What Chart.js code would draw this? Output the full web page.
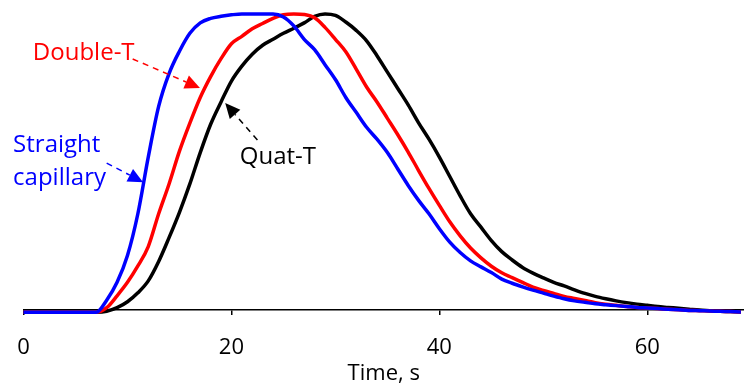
<!DOCTYPE html>
<html>
<head>
<meta charset="utf-8">
<script src="https://cdn.jsdelivr.net/npm/chart.js@4"></script>
<style>
  html, body { margin: 0; padding: 0; background: #fff; }
  #wrap { width: 744px; height: 385px; }
</style>
</head>
<body>
<div id="wrap"><canvas id="peaks"></canvas></div>
<script>
// time axis, seconds
const seconds = [0, 1, 2, 3, 4, 5, 6, 7, 8, 9, 10, 11, 12, 13, 14, 15, 16, 17, 18, 19,
  20, 21, 22, 23, 24, 25, 26, 27, 28, 29, 30, 31, 32, 33, 34, 35, 36, 37, 38, 39,
  40, 41, 42, 43, 44, 45, 46, 47, 48, 49, 50, 51, 52, 53, 54, 55, 56, 57, 58, 59,
  60, 61, 62, 63, 64, 65, 66, 67, 68, 69];

// signal, % of peak
const straightCapillary = [0, 0, 0, 0, 0, 0, 0, 0, 4, 10, 19, 33, 52, 69, 80, 87.5, 93.5, 97, 98.5, 99.2,
  99.7, 100, 100, 100, 100, 99, 96, 91.5, 88, 83, 78, 72, 67, 62, 58, 53.5, 48, 42.5, 37.5, 33,
  28, 23.5, 20, 17.2, 15.2, 13.3, 11.1, 9.7, 8.5, 7.4, 6.4, 5.4, 4.5, 3.8, 3.3, 2.8, 2.5, 2.2, 1.9, 1.6,
  1.4, 1.2, 1.0, 0.8, 0.6, 0.5, 0.4, 0.3, 0.2, 0.1];

const doubleT = [0, 0, 0, 0, 0, 0, 0, 0, 1.5, 5.5, 10, 15.5, 22, 33, 43, 54, 63.4, 72, 79, 85,
  90, 92.5, 95, 96.8, 98.5, 99.7, 100, 99.8, 98.7, 95.5, 91.5, 87.3, 81.5, 75.5, 70.5, 65, 59.5, 53.7, 47.5, 41.5,
  35.8, 30.3, 25.6, 21.5, 18.2, 15.4, 13.2, 11.6, 10, 8.4, 7.3, 6.3, 5.3, 4.6, 3.9, 3.2, 2.7, 2.3, 1.9, 1.6,
  1.4, 1.2, 1.0, 0.8, 0.6, 0.5, 0.4, 0.3, 0.2, 0.1];

const quatT = [0, 0, 0, 0, 0, 0, 0, 0, 0.3, 1.5, 3.5, 6.5, 10.5, 17, 25, 33.5, 43, 53.5, 63, 70.5,
  77.5, 82.5, 86.5, 89.5, 91.5, 93.5, 95.2, 97, 99.2, 100, 99.5, 97.3, 94.5, 91, 86, 80.5, 75, 69.5, 63.5, 58,
  52, 45.5, 39, 33, 28.5, 24, 20.3, 17.5, 15, 13.1, 11.5, 10, 8.8, 7.5, 6.3, 5.3, 4.5, 3.8, 3.2, 2.7,
  2.3, 1.9, 1.6, 1.3, 1.0, 0.7, 0.5, 0.3, 0.2, 0.1];

const xTicks = [0, 20, 40, 60];

// callout labels with dashed arrows, in data units
const callouts = [
  { lines: ['Double-T'], color: '#ff0000', at: [0.9, 86.9], from: [10.5, 84.9], to: [16.97, 75.2] },
  { lines: ['Straight', 'capillary'], color: '#0000ff', at: [-1.0, 56], from: [8.0, 50], to: [11.5, 43.6] },
  { lines: ['Quat-T'], color: '#000000', at: [20.8, 52], from: [22.5, 57.7], to: [19.4, 70.1] }
];

const FONT = '"Open Sans", "DejaVu Sans", sans-serif';

const calloutPlugin = {
  id: 'callouts',
  afterDatasetsDraw(chart) {
    const { ctx, scales: { x, y } } = chart;
    ctx.save();
    callouts.forEach(c => {
      ctx.fillStyle = c.color;
      ctx.strokeStyle = c.color;
      ctx.font = '24px ' + FONT;
      ctx.textAlign = 'left';
      ctx.textBaseline = 'middle';
      const tx = x.getPixelForValue(c.at[0]);
      const ty = y.getPixelForValue(c.at[1]);
      c.lines.forEach((t, i) => ctx.fillText(t, tx, ty + i * 33));

      const x1 = x.getPixelForValue(c.from[0]), y1 = y.getPixelForValue(c.from[1]);
      const x2 = x.getPixelForValue(c.to[0]), y2 = y.getPixelForValue(c.to[1]);
      const ang = Math.atan2(y2 - y1, x2 - x1);
      const head = 15, half = 7;
      const bx = x2 - head * Math.cos(ang), by = y2 - head * Math.sin(ang);
      ctx.lineWidth = 1.5;
      ctx.setLineDash([6, 5]);
      ctx.beginPath();
      ctx.moveTo(x1, y1);
      ctx.lineTo(bx, by);
      ctx.stroke();
      ctx.setLineDash([]);
      ctx.beginPath();
      ctx.moveTo(x2, y2);
      ctx.lineTo(bx + half * Math.sin(ang), by - half * Math.cos(ang));
      ctx.lineTo(bx - half * Math.sin(ang), by + half * Math.cos(ang));
      ctx.closePath();
      ctx.fill();
    });
    ctx.restore();
  }
};

function series(label, values, color) {
  return {
    label,
    data: values.map((v, i) => ({ x: seconds[i], y: v })),
    borderColor: color,
    backgroundColor: color,
    borderWidth: 3.5,
    pointRadius: 0,
    cubicInterpolationMode: 'monotone',
    clip: false
  };
}

window.addEventListener('load', () => {
  const ctx = document.getElementById('peaks').getContext('2d');
  new Chart(ctx, {
    type: 'line',
    data: {
      datasets: [
        series('Straight capillary', straightCapillary, '#0000ff'),
        series('Double-T', doubleT, '#ff0000'),
        series('Quat-T', quatT, '#000000')
      ]
    },
    options: {
      responsive: true,
      maintainAspectRatio: false,
      animation: false,
      layout: { padding: { left: 23.5, right: 0, top: 2, bottom: 0 } },
      plugins: {
        legend: { display: false },
        tooltip: { enabled: false }
      },
      scales: {
        x: {
          type: 'linear',
          min: 0,
          max: 69.3,
          afterBuildTicks: axis => {
            axis.ticks = xTicks.map(v => ({ value: v }));
          },
          grid: { drawOnChartArea: false, drawTicks: true, tickLength: 5, color: '#000', lineWidth: 1.5 },
          border: { display: true, color: '#000', width: 1.5 },
          // tall line box pushes the labels down without widening the side padding
          ticks: { color: '#000', font: { family: FONT, size: 22, lineHeight: '65px' }, padding: 0, maxRotation: 0 },
          title: {
            display: true,
            text: 'Time, s',
            color: '#000',
            font: { family: FONT, size: 22 },
            padding: { top: -19.5, bottom: -2 }
          }
        },
        y: {
          display: false,
          min: 0.7,
          max: 104
        }
      }
    },
    plugins: [calloutPlugin]
  });
});
</script>
</body>
</html>
